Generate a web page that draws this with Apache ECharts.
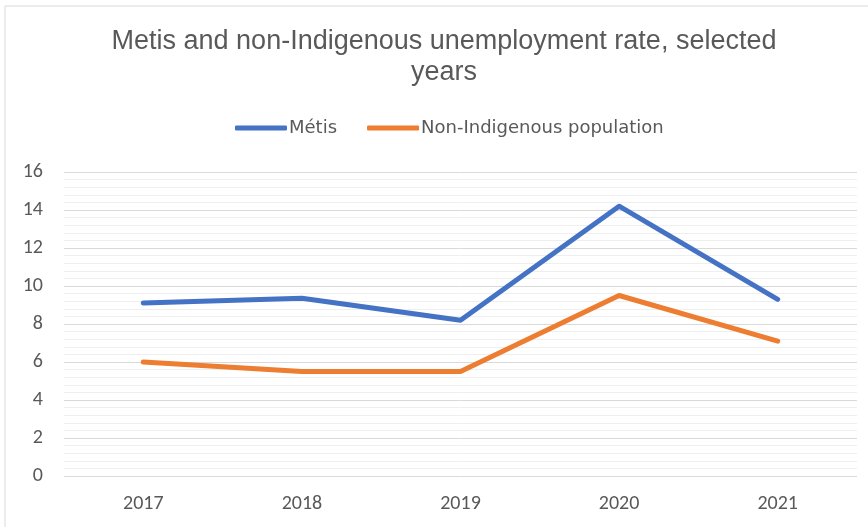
<!DOCTYPE html>
<html>
<head>
<meta charset="utf-8">
<script src="https://cdn.jsdelivr.net/npm/echarts@6/dist/echarts.min.js"></script>
<style>
  html, body { margin: 0; padding: 0; background: #ffffff; }
  #chart { width: 868px; height: 527px; }
</style>
</head>
<body>
<div id="chart"></div>
<script>
// Unemployment rate (%) by year
const years = ['2017', '2018', '2019', '2020', '2021'];
const metis = [9.1, 9.35, 8.2, 14.2, 9.3];
const nonIndigenous = [6.0, 5.5, 5.5, 9.5, 7.1];
const seriesNames = ['Métis', 'Non-Indigenous population'];
const titleText = 'Metis and non-Indigenous unemployment rate, selected\nyears';

const chart = echarts.init(document.getElementById('chart'), null, { renderer: 'canvas' });
const textColor = '#595959';
const axisFont = 'Carlito, "Open Sans", sans-serif';

chart.setOption({
  animation: false,
  backgroundColor: '#ffffff',
  graphic: [
    {
      type: 'rect',
      shape: { x: 5, y: 6, width: 900, height: 600 },
      style: { fill: 'none', stroke: '#d9d9d9', lineWidth: 1 },
      silent: true
    },
    {
      type: 'text',
      x: 444,
      y: 57,
      silent: true,
      style: {
        text: titleText,
        align: 'center',
        verticalAlign: 'middle',
        fill: textColor,
        font: 'normal 27px "Liberation Sans", Arial, sans-serif',
        lineHeight: 31
      }
    }
  ],
  legend: {
    top: 114,
    left: 230,
    icon: 'roundRect',
    itemWidth: 52,
    itemHeight: 5,
    itemGap: 30,
    textStyle: {
      color: textColor,
      fontFamily: '"DejaVu Sans", sans-serif',
      fontSize: 18,
      padding: [0, 0, 0, -3]
    },
    data: seriesNames
  },
  grid: {
    left: 64,
    right: 11,
    top: 172,
    bottom: 51,
    containLabel: false
  },
  xAxis: {
    type: 'category',
    data: years,
    boundaryGap: true,
    axisLine: { show: false },
    axisTick: { show: false },
    axisLabel: {
      color: textColor,
      fontFamily: axisFont,
      fontSize: 20,
      margin: 18
    }
  },
  yAxis: {
    type: 'value',
    min: 0,
    max: 16,
    interval: 2,
    axisLine: { show: false },
    axisTick: { show: false },
    axisLabel: {
      color: textColor,
      fontFamily: axisFont,
      fontSize: 20,
      margin: 21
    },
    splitLine: { show: true, lineStyle: { color: '#d9d9d9', width: 1 } },
    minorTick: { show: false, splitNumber: 5 },
    minorSplitLine: { show: true, lineStyle: { color: '#efefef', width: 1 } }
  },
  series: [
    {
      name: seriesNames[0],
      type: 'line',
      data: metis,
      showSymbol: false,
      symbol: 'none',
      itemStyle: { color: '#4472C4' },
      lineStyle: { color: '#4472C4', width: 5, cap: 'round', join: 'round' }
    },
    {
      name: seriesNames[1],
      type: 'line',
      data: nonIndigenous,
      showSymbol: false,
      symbol: 'none',
      itemStyle: { color: '#ED7D31' },
      lineStyle: { color: '#ED7D31', width: 5, cap: 'round', join: 'round' }
    }
  ]
});
</script>
</body>
</html>
